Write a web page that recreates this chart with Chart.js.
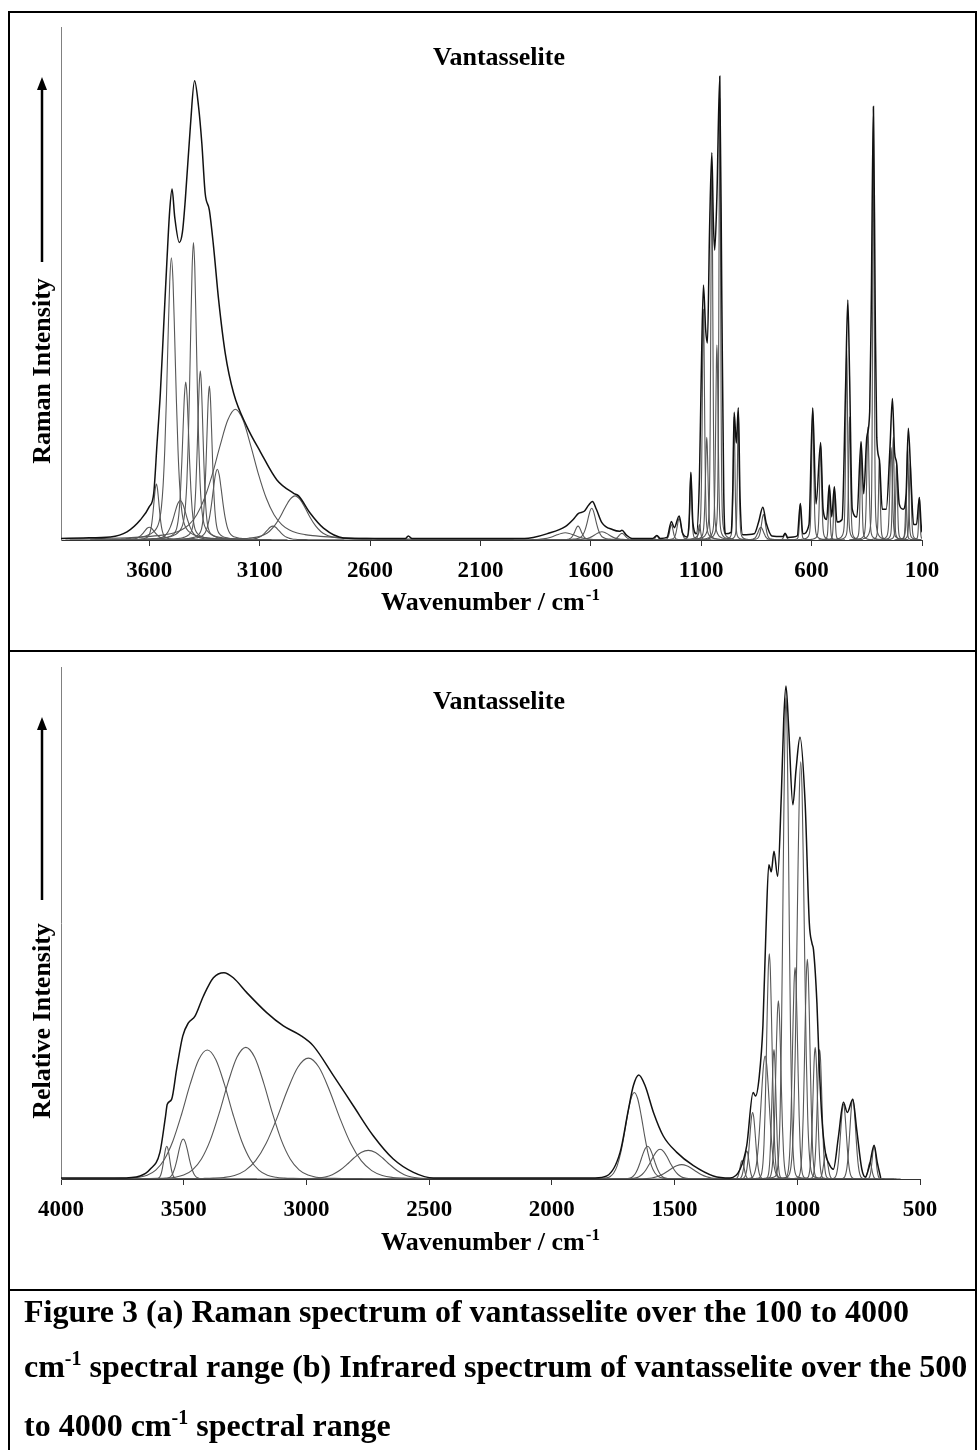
<!DOCTYPE html>
<html>
<head>
<meta charset="utf-8">
<script src="https://cdn.jsdelivr.net/npm/chart.js@4.4.1/dist/chart.umd.min.js"></script>
<style>
  html, body { margin: 0; padding: 0; background: #fff; }
  body { width: 978px; height: 1450px; position: relative; overflow: hidden; font-family: "Liberation Serif", "Times New Roman", serif; }
  .frame { position: absolute; left: 8px; top: 11px; width: 969px; height: 1480px; border: 2px solid #000; box-sizing: border-box; z-index: 2; pointer-events: none; }
  .rule { position: absolute; left: 8px; width: 969px; height: 2px; background: #000; z-index: 2; }
  canvas { position: absolute; left: 0; }
  #raman { top: 13px; }
  #ir { top: 653px; }
  .caption { position: absolute; left: 24px; top: 1284px; font-weight: bold; font-size: 32px; line-height: 55px; white-space: nowrap; color: #000; }
  .caption .sup { font-size: 20px; position: relative; top: -12px; }
</style>
</head>
<body>
<div class="frame"></div>
<div class="rule" style="top:650px"></div>
<div class="rule" style="top:1289px"></div>
<canvas id="raman" width="978" height="637"></canvas>
<canvas id="ir" width="978" height="636"></canvas>
<div class="caption">Figure 3 (a) Raman spectrum of vantasselite over the 100 to 4000<br>cm<span class="sup">-1</span> spectral range (b) Infrared spectrum of vantasselite over the 500<br>to 4000 cm<span class="sup">-1</span> spectral range</div>

<script>
const ramanTicks = [3600, 3100, 2600, 2100, 1600, 1100, 600, 100];
const ramanWave = [
  4000, 3900, 3776, 3701, 3641, 3600, 3580, 3565, 3550, 3535, 3520, 3508, 3497, 3485, 3464, 3450,
  3437, 3414, 3395, 3377, 3362, 3347, 3328, 3309, 3286, 3256, 3218, 3158, 3097, 3022, 2946, 2924,
  2871, 2811, 2720, 2600, 2440, 2427, 2410, 1900, 1861, 1800, 1716, 1680, 1656, 1630, 1610, 1593,
  1575, 1550, 1500, 1470, 1459, 1440, 1414, 1320, 1301, 1285, 1255, 1235, 1222, 1200, 1185, 1165,
  1155, 1147, 1138, 1122, 1108, 1100, 1090, 1080, 1072, 1062, 1052, 1045, 1039, 1029, 1016, 1007,
  998, 990, 965, 957, 951, 941, 932, 924, 912, 860, 840, 821, 805, 780, 730, 720,
  708, 665, 651, 640, 612, 595, 580, 559, 548, 532, 520, 509, 497, 485, 462, 446,
  436, 428, 416, 395, 376, 364, 350, 337, 330, 320, 312, 305, 293, 280, 262, 245,
  234, 224, 215, 203, 185, 172, 162, 150, 138, 125, 112, 104, 100
];
const ramanIntensity = [
  0.3, 0.4, 0.6, 1.6, 3.9, 6.5, 9.1, 18.8, 28.6, 41.6, 54.6, 64, 68.4, 63, 58, 60,
  66.3, 80.6, 89.5, 84.5, 77.3, 67.6, 64.3, 57.2, 46.8, 36.4, 28.6, 22.1, 17.2, 11.7, 9.1, 8.6,
  5.2, 2.3, 0.4, 0.3, 0.3, 0.8, 0.3, 0.3, 0.5, 1.2, 2.6, 4.0, 5.2, 5.6, 6.8, 7.5,
  6.0, 3.4, 2.0, 1.7, 1.9, 1.0, 0.3, 0.3, 0.9, 0.3, 0.5, 3.6, 2.4, 4.7, 1.4, 0.6,
  3.5, 13.2, 3.5, 1.2, 12.3, 31.8, 49.7, 41, 38.4, 61, 75.5, 62, 56.5, 67, 90.4, 48,
  9, 1.2, 1.5, 10, 24.9, 18.9, 25.8, 8, 1, 1.2, 3.5, 6.4, 3.2, 0.8, 0.7, 1.3,
  0.5, 0.8, 7.1, 1.2, 3, 25.8, 7, 19, 6, 4, 10.7, 4.5, 10.4, 3.5, 4, 30,
  46.8, 32, 6, 4.5, 19.2, 9, 20, 25, 45, 84.5, 45, 20, 15.6, 6, 6, 18,
  27.6, 17, 15, 7, 6, 9, 21.8, 12, 3, 3, 8.3, 3, 1.5
];
// fitted component bands: position, height, width (FWHM)
const ramanBandCentre = [3600, 3568, 3500, 3460, 3435, 3400, 3369, 3328, 3292, 3210, 3040, 2940,
  1716, 1658, 1596, 1550, 1459,
  1301, 1235, 1200, 1147, 1108, 1090, 1075, 1052, 1029, 1016, 951, 932, 830, 818, 720,
  651, 595, 559, 520, 497, 441, 428, 376, 345, 320, 293, 240, 230, 215, 172, 165, 153, 112];
const ramanBandHeight = [2.5, 10.9, 55, 7.7, 30.8, 58, 33, 30, 13.8, 25.5, 2.7, 8.6,
  1.4, 2.7, 6.2, 1.6, 1.3,
  0.8, 3.0, 4.2, 13, 3, 45, 20, 72, 38, 86, 24, 25, 2.5, 5, 1.2,
  7, 25.5, 18.5, 10.5, 10, 37, 24, 19, 22, 84, 15.6, 18, 20, 15, 8, 18, 15, 8.3];
const ramanBandWidth = [60, 30, 45, 68, 35, 36, 30, 30, 53, 210, 75, 140,
  110, 35, 45, 80, 35,
  15, 18, 22, 10, 12, 12, 14, 11, 13, 9, 9, 9, 30, 22, 14,
  9, 11, 11, 8, 8, 10, 10, 9, 12, 8, 9, 13, 9, 9, 8, 10, 10, 7];

// --- (b) INFRARED ---
const irTicks = [4000, 3500, 3000, 2500, 2000, 1500, 1000, 500];
const irWave = [
  4000, 3760, 3678, 3637, 3597, 3574, 3567, 3549, 3529, 3504, 3481, 3454, 3420, 3379, 3336, 3298,
  3243, 3162, 3094, 3026, 2972, 2890, 2809, 2727, 2646, 2564, 2483, 1824, 1776, 1722, 1688, 1668,
  1646, 1620, 1586, 1546, 1491, 1423, 1342, 1274, 1233, 1206, 1180, 1170, 1155, 1140, 1128, 1116,
  1106, 1095, 1080, 1065, 1055, 1046, 1035, 1018, 1005, 989, 968, 951, 940, 934, 920, 912,
  900, 885, 873, 853, 832, 812, 796, 774, 758, 737, 723, 706, 687, 674, 660
];
const irIntensity = [
  0.2, 0.2, 0.6, 1.9, 5.2, 12.3, 14.6, 15.6, 21.4, 27.9, 30.5, 31.8, 35.7, 39.3, 40.3, 39.3,
  36.4, 32.5, 29.9, 28.1, 26, 20.2, 14.3, 8.4, 3.9, 1.3, 0.2, 0.2, 0.6, 5.2, 13.6, 18.2,
  20.3, 18.2, 13, 8.4, 5.2, 2.6, 0.6, 0.2, 1.9, 6.5, 16.9, 16.2, 20, 30, 48, 61.4,
  60, 64, 59.1, 75, 90, 96.3, 88, 73.1, 80, 86.3, 73.4, 50, 46, 44.8, 34.4, 24,
  12, 5, 3.2, 1.9, 8.4, 15, 13, 15.6, 9.7, 1.9, 0.4, 2.6, 6.6, 3.2, 0.2
];
const irBandCentre = [3569, 3502, 3404, 3247, 2992, 2748, 1664, 1610, 1559, 1471,
  1225, 1206, 1182, 1131, 1114, 1095, 1077, 1046, 1009, 986, 959, 927, 909, 884, 812, 774, 704, 687];
const irBandHeight = [6.4, 7.8, 25.2, 25.7, 23.6, 5.6, 16.9, 6.4, 5.8, 2.8,
  3.6, 5.5, 13, 24, 44, 25.3, 34.8, 94, 41.3, 81.5, 42.9, 25.7, 25.3, 4.9, 14.6, 15.6, 3.2, 6.5];
const irBandWidth = [28, 50, 210, 217, 258, 176, 84, 61, 88, 122,
  20, 22, 28, 40, 26, 20, 25, 28, 25, 34, 25, 22, 22, 20, 28, 28, 18, 18];

// Band profile for the fitted components (pseudo-Voigt)
function bandPoints(centre, height, fwhm, eta, lo, hi) {
  const pts = [];
  for (let k = 36; k >= -36; k--) {
    const v = centre + k * fwhm / 6;
    if (v > hi || v < lo) continue;
    const d = (v - centre) / fwhm;
    const g = Math.exp(-4 * Math.LN2 * d * d);
    const l = 1 / (1 + 4 * d * d);
    pts.push({ x: v, y: height * (eta * l + (1 - eta) * g) });
  }
  return pts;
}

function buildDatasets(wave, intensity, centres, heights, widths, eta, lo, hi) {
  // measured spectrum first so it is drawn on top
  const sets = [{
    data: wave.map((x, i) => ({ x, y: intensity[i] })),
    showLine: true, borderColor: '#111', borderWidth: 1.5, pointRadius: 0,
    cubicInterpolationMode: 'monotone'
  }];
  centres.forEach((c, i) => {
    sets.push({
      data: bandPoints(c, heights[i], widths[i], eta, lo, hi),
      showLine: true, borderColor: '#575757', borderWidth: 1.1, pointRadius: 0,
      cubicInterpolationMode: 'monotone'
    });
  });
  return sets;
}

// titles, y-axis arrow and the x title with its superscript
const decorPlugin = {
  id: 'decor',
  afterDraw(chart, args, o) {
    const ctx = chart.ctx;
    ctx.save();
    ctx.fillStyle = '#000';
    ctx.strokeStyle = '#000';
    ctx.textBaseline = 'middle';

    ctx.textAlign = 'center';
    ctx.font = 'bold 26px "Liberation Serif"';
    ctx.fillText(o.title, o.titleX, o.titleY);

    // x axis title
    ctx.textAlign = 'left';
    ctx.font = 'bold 26px "Liberation Serif"';
    const main = 'Wavenumber / cm';
    const wMain = ctx.measureText(main).width;
    ctx.font = 'bold 17px "Liberation Serif"';
    const wSup = ctx.measureText('-1').width;
    const x0 = o.xTitleX - (wMain + wSup) / 2;
    ctx.font = 'bold 26px "Liberation Serif"';
    ctx.fillText(main, x0, o.xTitleY);
    ctx.font = 'bold 17px "Liberation Serif"';
    ctx.fillText('-1', x0 + wMain + 1, o.xTitleY - 7);

    // y axis title
    ctx.save();
    ctx.translate(o.yTitleX, o.yTitleY);
    ctx.rotate(-Math.PI / 2);
    ctx.textAlign = 'center';
    ctx.font = 'bold 26px "Liberation Serif"';
    ctx.fillText(o.yTitle, 0, 0);
    ctx.restore();

    // arrow
    ctx.lineWidth = 2.5;
    ctx.beginPath();
    ctx.moveTo(o.arrowX, o.arrowBottom);
    ctx.lineTo(o.arrowX, o.arrowTop + 8);
    ctx.stroke();
    ctx.beginPath();
    ctx.moveTo(o.arrowX, o.arrowTop);
    ctx.lineTo(o.arrowX - 5, o.arrowTop + 13);
    ctx.lineTo(o.arrowX + 5, o.arrowTop + 13);
    ctx.closePath();
    ctx.fill();
    ctx.restore();
  }
};

function makeChart(id, datasets, ticks, min, max, padRight, decor) {
  return new Chart(document.getElementById(id), {
    type: 'scatter',
    data: { datasets },
    options: {
      responsive: false,
      animation: false,
      events: [],
      layout: { padding: { left: 61, right: padRight, top: 14, bottom: 0 } },
      plugins: { legend: { display: false }, tooltip: { enabled: false }, decor },
      scales: {
        x: {
          type: 'linear', reverse: true, min, max,
          afterBuildTicks: axis => { axis.ticks = ticks.map(value => ({ value })); },
          afterFit: axis => { axis.height = 110; },
          ticks: {
            callback: v => String(v), autoSkip: false, maxRotation: 0, padding: 11, color: '#000',
            font: { family: '"Liberation Serif"', size: 23, weight: 'bold' }
          },
          grid: { display: true, drawOnChartArea: false, drawTicks: true, tickLength: 6, color: '#333' },
          border: { display: true, color: '#333', width: 1 }
        },
        y: {
          min: 0, max: 100,
          afterFit: axis => { axis.width = 0; },
          ticks: { display: false },
          grid: { display: false },
          border: { display: true, color: '#808080', width: 1 }
        }
      }
    },
    plugins: [decorPlugin]
  });
}

makeChart('raman',
  buildDatasets(ramanWave, ramanIntensity, ramanBandCentre, ramanBandHeight, ramanBandWidth, 0.4, 100, 4000),
  ramanTicks, 100, 4000, 56,
  { title: 'Vantasselite', titleX: 499, titleY: 45, xTitleX: 490, xTitleY: 590,
    yTitle: 'Raman Intensity', yTitleX: 43, yTitleY: 358, arrowX: 42, arrowTop: 64, arrowBottom: 249 });

makeChart('ir',
  buildDatasets(irWave, irIntensity, irBandCentre, irBandHeight, irBandWidth, 0.05, 500, 4000),
  irTicks, 500, 4000, 58,
  { title: 'Vantasselite', titleX: 499, titleY: 49, xTitleX: 490, xTitleY: 590,
    yTitle: 'Relative Intensity', yTitleX: 43, yTitleY: 368, arrowX: 42, arrowTop: 64, arrowBottom: 247 });
</script>
</body>
</html>
